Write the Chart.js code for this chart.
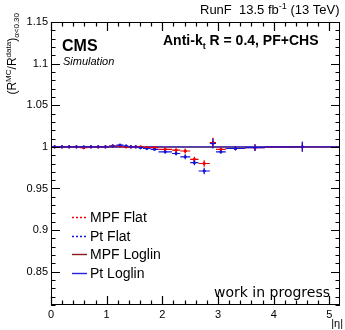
<!DOCTYPE html>
<html>
<head>
<meta charset="utf-8">
<script src="https://cdn.jsdelivr.net/npm/chart.js@4.4.1/dist/chart.umd.min.js"></script>
<style>
  html, body { margin: 0; padding: 0; background: #fff; }
  #wrap { width: 345px; height: 330px; }
</style>
</head>
<body>
<div id="wrap"><canvas id="c" width="345" height="330"></canvas></div>
<script>
// |eta| bin edges
const etaEdges = [0, 0.131, 0.261, 0.392, 0.522, 0.653, 0.783, 0.913, 1.044, 1.174, 1.305, 1.392, 1.479,
                  1.566, 1.653, 1.79, 1.93, 2.172, 2.322, 2.5, 2.65, 2.853, 2.964, 3.139, 3.489, 3.839, 5.191];
// ratios per bin
const mpfFlat    = [1.000, 1.000, 1.000, 1.000, 0.999, 1.000, 1.000, 1.000, 1.001, 1.001, 1.000, 1.000, 1.000,
                    1.000, 0.999, 0.999, 0.997, 0.996, 0.995, 0.985, 0.980, 1.005, 0.997, 0.998, 0.999, 1.000];
const mpfFlatErr = [0.001, 0.001, 0.001, 0.001, 0.001, 0.001, 0.001, 0.001, 0.001, 0.001, 0.001, 0.001, 0.001,
                    0.001, 0.001, 0.001, 0.002, 0.002, 0.003, 0.003, 0.004, 0.006, 0.002, 0.002, 0.004, 0.006];
const ptFlat     = [1.000, 1.000, 1.000, 1.000, 1.000, 1.000, 1.000, 1.000, 1.001, 1.002, 1.001, 1.000, 1.000,
                    0.999, 0.998, 0.997, 0.994, 0.992, 0.988, 0.981, 0.971, 1.004, 0.994, 0.998, 0.999, 1.000];
const ptFlatErr  = [0.001, 0.001, 0.001, 0.001, 0.001, 0.001, 0.001, 0.001, 0.001, 0.001, 0.001, 0.001, 0.001,
                    0.001, 0.001, 0.001, 0.002, 0.002, 0.003, 0.003, 0.004, 0.006, 0.002, 0.002, 0.004, 0.006];
const mpfLoglin  = [1.000, 1.000, 1.000, 1.000, 1.000, 1.000, 1.000, 1.000, 1.000, 1.000, 1.000, 1.000, 1.000,
                    1.000, 1.000, 1.000, 1.000, 1.000, 1.000, 1.000, 1.000, 1.000, 1.000, 1.000, 1.000, 1.000];
const ptLoglin   = [1.000, 1.000, 1.000, 1.000, 1.000, 1.000, 1.000, 1.000, 1.000, 1.000, 1.000, 1.000, 1.000,
                    1.000, 1.000, 1.000, 1.000, 1.000, 1.000, 1.000, 1.000, 1.000, 1.000, 1.000, 1.000, 1.000];
const yTicks = [0.85, 0.9, 0.95, 1, 1.05, 1.1, 1.15];
const xTicks = [0, 1, 2, 3, 4, 5];

const FONT = 'Liberation Sans, Arial, sans-serif';

function points(vals, errs) {
  return vals.map((v, i) => ({
    x: (etaEdges[i] + etaEdges[i + 1]) / 2,
    y: v,
    xl: etaEdges[i], xh: etaEdges[i + 1],
    e: errs ? errs[i] : 0
  }));
}

const datasets = [
  { label: 'MPF Loglin', data: points(mpfLoglin), borderColor: '#8b1a1a', borderWidth: 1, showLine: true,
    pointRadius: 0, legendDash: [], order: 4 },
  { label: 'Pt Loglin', data: points(ptLoglin), borderColor: '#2222dd', borderWidth: 1, showLine: true,
    pointRadius: 0, legendDash: [], order: 3 },
  { label: 'MPF Flat', data: points(mpfFlat, mpfFlatErr), borderColor: '#ee0000', backgroundColor: '#ee0000',
    pointRadius: 1.2, showLine: false, errBars: true, legendDash: [2, 2], order: 2 },
  { label: 'Pt Flat', data: points(ptFlat, ptFlatErr), borderColor: '#1515d8', backgroundColor: '#1515d8',
    pointRadius: 1.2, showLine: false, errBars: true, legendDash: [2, 2], order: 1 }
];

// error bars (x = bin width, y = stat error)
const errorBars = {
  id: 'errorBars',
  afterDatasetsDraw(chart) {
    const { ctx, scales: { x, y } } = chart;
    ctx.save();
    chart.data.datasets.forEach(ds => {
      if (!ds.errBars) return;
      ctx.strokeStyle = ds.borderColor;
      ctx.lineWidth = 1.2;
      ds.data.forEach(p => {
        const px = x.getPixelForValue(p.x), py = y.getPixelForValue(p.y);
        ctx.beginPath();
        ctx.moveTo(x.getPixelForValue(p.xl), py); ctx.lineTo(x.getPixelForValue(p.xh), py);
        ctx.moveTo(px, y.getPixelForValue(p.y - p.e)); ctx.lineTo(px, y.getPixelForValue(p.y + p.e));
        ctx.stroke();
      });
    });
    ctx.restore();
  }
};

// ROOT style frame, inner ticks, texts and legend
const decor = {
  id: 'decor',
  beforeDatasetsDraw(chart) {
    const { ctx, chartArea: a, scales: { y } } = chart;
    // reference line at 1
    ctx.save();
    ctx.strokeStyle = '#888';
    ctx.lineWidth = 1;
    ctx.beginPath();
    ctx.moveTo(a.left, Math.round(y.getPixelForValue(1)) + 0.5);
    ctx.lineTo(a.right, Math.round(y.getPixelForValue(1)) + 0.5);
    ctx.stroke();
    ctx.restore();
  },
  afterDraw(chart) {
    const { ctx, chartArea: a, scales: { x, y } } = chart;
    ctx.save();
    ctx.strokeStyle = '#000';
    ctx.lineWidth = 1;
    ctx.strokeRect(a.left + 0.5, a.top + 0.5, a.right - a.left - 1, a.bottom - a.top - 1);
    ctx.lineWidth = 1.2;
    ctx.beginPath();
    // y ticks, 0.01 steps
    for (let k = 81; k <= 115; k++) {
      const v = k / 100;
      const py = Math.round(y.getPixelForValue(v)) + 0.5;
      const len = (k % 5 === 0) ? 9 : 4.5;
      ctx.moveTo(a.left, py); ctx.lineTo(a.left + len, py);
      ctx.moveTo(a.right, py); ctx.lineTo(a.right - len, py);
    }
    // x ticks, 0.2 steps
    for (let k = 0; k <= 26; k++) {
      const v = k / 5;
      if (v > x.max) break;
      const px = Math.round(x.getPixelForValue(v)) + 0.5;
      const len = (k % 5 === 0) ? 9 : 4.5;
      ctx.moveTo(px, a.bottom); ctx.lineTo(px, a.bottom - len);
      ctx.moveTo(px, a.top); ctx.lineTo(px, a.top + len);
    }
    ctx.stroke();

    ctx.fillStyle = '#000';
    ctx.textBaseline = 'alphabetic';
    // top-right lumi label
    ctx.font = '13px ' + FONT;
    ctx.textAlign = 'left';
    let tx = 200;
    ctx.fillText('RunF  13.5 fb', tx, 14);
    tx += ctx.measureText('RunF  13.5 fb').width;
    ctx.font = '9px ' + FONT;
    ctx.fillText('-1', tx, 9);
    tx += ctx.measureText('-1').width;
    ctx.font = '13px ' + FONT;
    ctx.fillText(' (13 TeV)', tx, 14);

    // CMS / Simulation
    ctx.font = 'bold 16px ' + FONT;
    ctx.fillText('CMS', 62, 51);
    ctx.font = 'italic 11px ' + FONT;
    ctx.fillText('Simulation', 63, 65);

    // algorithm
    ctx.font = 'bold 14px ' + FONT;
    tx = 163;
    ctx.fillText('Anti-k', tx, 45);
    tx += ctx.measureText('Anti-k').width;
    ctx.font = 'bold 9px ' + FONT;
    ctx.fillText('t', tx, 49);
    tx += ctx.measureText('t').width;
    ctx.font = 'bold 14px ' + FONT;
    ctx.fillText(' R = 0.4, PF+CHS', tx, 45);

    // work in progress
    ctx.font = '14px DejaVu Sans, sans-serif';
    ctx.fillText('work in progress', 214, 297);

    // axis titles
    ctx.font = '11px ' + FONT;
    ctx.textAlign = 'right';
    ctx.fillText('|\u03b7|', 343, 327);

    ctx.save();
    ctx.translate(16, 0);
    ctx.rotate(-Math.PI / 2);
    const parts = [
      ['(R', 12, 0], ['MC', 8, -5], ['/R', 12, 0], ['data', 8, -5], [')', 12, 0], ['\u03b1<0.30', 8, 3]
    ];
    let w = 0;
    parts.forEach(p => { ctx.font = p[1] + 'px ' + FONT; w += ctx.measureText(p[0]).width; });
    ctx.textAlign = 'left';
    let sx = -13 - w;
    parts.forEach(p => {
      ctx.font = p[1] + 'px ' + FONT;
      ctx.fillText(p[0], sx, p[2]);
      sx += ctx.measureText(p[0]).width;
    });
    ctx.restore();

    // legend
    const order = ['MPF Flat', 'Pt Flat', 'MPF Loglin', 'Pt Loglin'];
    ctx.font = '14px ' + FONT;
    ctx.textAlign = 'left';
    ctx.lineWidth = 1.4;
    order.forEach((name, i) => {
      const ds = chart.data.datasets.find(d => d.label === name);
      const ly = Math.round(217 + i * 18.5);
      ctx.strokeStyle = ds.borderColor;
      ctx.setLineDash(ds.legendDash);
      ctx.beginPath();
      ctx.moveTo(72, ly + 0.5); ctx.lineTo(87, ly + 0.5);
      ctx.stroke();
      ctx.setLineDash([]);
      ctx.fillText(name, 90, ly + 5);
    });
    ctx.restore();
  }
};

new Chart(document.getElementById('c'), {
  type: 'scatter',
  data: { datasets },
  options: {
    responsive: false,
    animation: false,
    events: [],
    layout: { padding: { left: 0, right: 1, top: 22, bottom: 0 } },
    plugins: { legend: { display: false }, tooltip: { enabled: false } },
    scales: {
      x: {
        type: 'linear', min: 0, max: 5.191,
        grid: { display: false, drawTicks: false },
        border: { display: false },
        afterBuildTicks: s => { s.ticks = xTicks.map(v => ({ value: v })); },
        afterFit: s => { s.height = 25; },
        ticks: { font: { family: FONT, size: 11 }, color: '#000', padding: 3, maxRotation: 0,
                 callback: v => String(v) }
      },
      y: {
        type: 'linear', min: 0.81, max: 1.15,
        grid: { display: false, drawTicks: false },
        border: { display: false },
        afterBuildTicks: s => { s.ticks = yTicks.map(v => ({ value: v })); },
        afterFit: s => { s.width = 51; },
        ticks: { font: { family: FONT, size: 11 }, color: '#000', padding: 3,
                 callback: v => String(+v.toFixed(2)) }
      }
    }
  },
  plugins: [errorBars, decor]
});
</script>
</body>
</html>
